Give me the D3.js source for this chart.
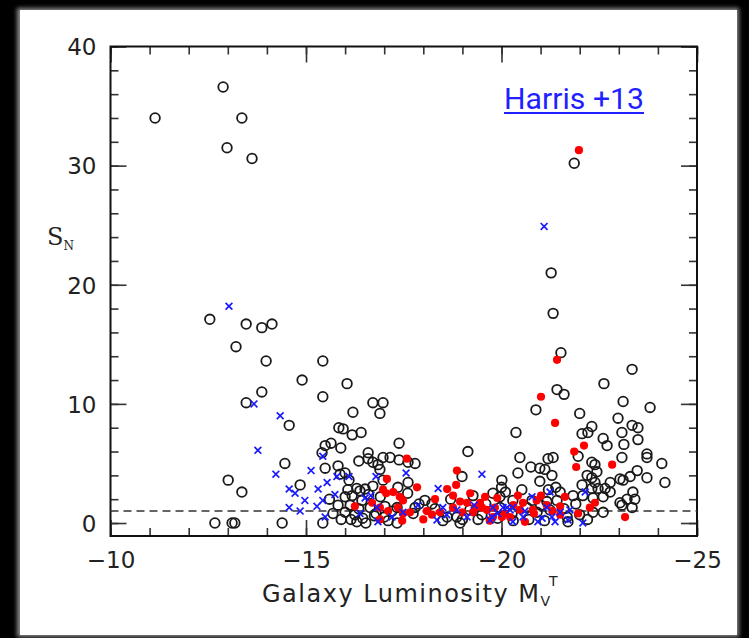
<!DOCTYPE html>
<html><head><meta charset="utf-8">
<script src="https://d3js.org/d3.v7.min.js"></script>
<style>
html,body{margin:0;padding:0;background:#000;}
svg{display:block;}
</style></head>
<body>
<svg id="chart" width="749" height="638"></svg>
<script>
// ---- data (Galaxy luminosity M_V^T, specific frequency S_N) ----
const xTicksMajor = [-10, -15, -20, -25];
const yTicksMajor = [0, 10, 20, 30, 40];
const referenceLevel = 1;
const annotation = "Harris +13";

const openMag = [-11.14,-12.88,-12.98,-13.36,-13.62,-12.54,-13.47,-13.87,-14.13,-13.21,-13.98,-14.90,-13.87,-13.47,-14.57,-14.46,-13.01,-13.36,-14.85,-12.67,-13.11,-13.18,-14.39,
-15.43,-15.43,-16.05,-16.20,-16.71,-16.97,-16.89,-15.84,-15.95,-16.18,-16.41,-15.49,-15.64,-15.89,-15.41,-17.38,-16.59,-16.97,-17.15,-16.35,-16.59,-16.71,-16.84,-16.89,-17.38,-17.61,-17.79,
-15.49,-15.82,-15.87,-16.00,-16.10,-16.30,-16.38,-16.07,-16.00,-16.18,-16.51,-16.71,-16.97,-17.35,-17.61,-15.82,-16.00,-16.13,-16.25,-16.30,-16.53,-16.79,-17.02,-17.33,-17.33,-17.74,-17.89,-17.79,-18.04,-18.22,-18.61,-18.86,-18.94,-18.99,-19.14,-19.27,-19.78,-20.01,-20.37,-20.47,-15.43,-15.69,-16.43,-16.64,-19.19,-19.50,
-21.42,-21.60,-22.62,-20.88,-22.00,-23.11,-23.80,-22.31,-22.06,-22.21,-22.98,-23.34,-23.49,-23.08,-22.60,-22.70,-23.13,-23.49,-21.19,-21.32,-21.96,-22.31,-22.39,-23.08,-23.72,-23.72,-24.10,-20.75,-20.98,-21.11,-20.42,-21.29,-22.44,-23.47,-22.19,-23.29,-20.98,-23.03,-23.72,-24.18,-22.31,-22.39,-22.06,-22.78,-23.11,-21.39,-22.47,-22.65,-22.31,-23.36,-23.21,-23.41,-20.52,-21.83,-22.08,-22.34,-22.60,-22.78,-23.03,-23.08,-23.34,-22.60,-22.34,-22.00,-21.70,-19.96,-20.29,-20.78,-21.16,-21.42,-20.65,-20.91,-20.27,-19.96,-21.24,-21.68,
-21.86,-21.27,-21.32,-21.52,-23.34,
-16.15,-16.45,-16.75,-17.10,-17.20,-16.60,-16.90,-17.60,-17.00,-15.90,-15.60,-16.35,
-18.30,-18.50,-18.70,-19.00,-19.40,-19.60,-19.90,-20.10,-20.30,-20.00,
-20.70,-21.00,-21.20,-21.50,-21.90,-21.10,-21.60,-22.20];
const openSN = [34.0,36.6,31.5,34.0,30.6,17.1,16.7,16.4,16.7,14.8,13.6,12.0,11.0,10.1,8.2,5.0,3.6,2.6,3.2,0.0,0.0,0.0,0.0,
13.6,10.6,11.7,9.3,10.1,10.1,9.2,8.0,7.9,7.4,7.6,6.5,6.7,6.3,5.9,6.7,5.9,5.5,5.5,5.2,5.4,5.1,4.9,4.5,5.3,5.1,5.0,
4.6,4.8,4.1,4.2,3.6,2.9,2.7,2.8,2.2,2.3,2.85,3.1,3.6,3.0,3.4,1.5,0.9,1.5,0.7,0.1,0.0,0.8,1.4,1.3,0.0,0.8,1.6,1.3,1.9,1.6,0.5,0.5,0.0,3.9,6.0,2.3,2.5,3.6,7.6,5.5,0.0,0.8,1.9,1.3,1.1,0.7,
11.2,10.8,11.7,9.5,9.2,10.2,9.7,8.1,7.5,7.6,8.8,8.2,8.0,7.6,7.1,6.5,6.6,7.0,5.4,5.5,5.6,5.1,4.9,5.5,5.8,5.5,5.0,4.7,4.6,4.5,4.2,4.0,4.3,4.4,4.0,3.9,3.5,3.7,3.8,3.4,3.8,3.4,3.2,3.4,3.6,3.0,2.9,2.9,2.9,2.6,2.0,2.0,2.8,2.3,2.3,2.1,2.2,2.6,1.7,1.5,1.3,0.9,0.9,0.7,0.1,2.2,1.9,1.9,1.8,1.9,1.3,0.9,0.8,1.3,1.1,0.5,
30.2,21.0,17.6,14.3,12.9,
0.3,0.4,0.6,0.2,1.0,2.4,2.2,2.5,0.5,0.3,2.0,1.2,
1.2,0.2,2.0,0.3,0.3,1.6,0.4,2.6,0.2,3.0,
0.3,1.5,2.8,2.6,1.6,0.2,1.2,0.3];

const redMag = [-21.98,-21.42,-21.01,-21.37,-22.11,-21.86,-21.91,-22.83,-23.16,
-17.58,-17.07,-17.84,-16.97,-17.23,-17.40,-17.48,-17.35,-17.48,-17.66,-16.89,-16.69,-16.25,-16.89,-17.46,-18.86,-18.61,-18.84,-18.76,-18.76,-18.94,-19.12,-19.32,-19.45,-19.58,-19.63,-19.89,-20.09,-20.22,-19.27,-18.22,-18.43,-18.09,-17.05,
-19.50,-19.83,-20.42,-20.47,-20.55,-20.83,-21.01,-21.16,-21.50,-21.50,-21.62,-21.96,-22.26,-22.39,-20.60,-20.01,-19.78,-20.80,
-18.00,-18.30,-19.00,-19.20,-20.30,-20.90,-21.30,-17.10,-19.70];
const redSN = [31.3,13.7,10.6,8.4,6.5,6.0,4.7,4.9,0.5,
5.4,3.7,3.0,2.8,2.6,2.2,1.9,1.3,0.8,0.9,1.3,1.7,1.4,0.3,0.2,4.4,2.85,3.2,2.3,1.3,1.8,1.7,1.3,1.7,2.2,1.1,2.1,0.8,0.5,0.9,0.7,0.9,1.0,2.5,
1.3,1.3,2.3,1.1,1.7,0.8,2.3,1.5,1.4,0.7,2.2,0.8,1.3,1.7,0.1,0.5,0.5,1.1,
0.3,2.0,0.9,2.5,1.5,1.9,1.0,1.0,0.2];

const blueMag = [-13.03,-13.67,-14.34,-13.77,-14.23,-15.13,-14.57,-14.72,-14.97,-14.57,-14.85,-15.31,-15.28,
-15.43,-15.79,-16.10,-16.79,-17.56,-15.54,-15.74,-15.43,-15.49,-16.38,-16.51,-16.66,-16.82,-16.84,-17.48,-17.86,-18.38,-18.50,-18.35,-19.12,-18.86,-19.50,-19.76,-20.04,-20.22,-19.71,
-21.24,-20.78,-22.14,-19.78,-20.14,-20.29,-20.55,-21.16,-21.04,-21.29,-21.37,-20.29,-21.75,-21.70,-22.08,-20.93,-21.09,
-18.60,-19.30,-20.60,-21.50,-17.20,-19.90];
const blueSN = [18.2,10.0,9.0,6.1,4.1,4.4,2.85,2.5,1.9,1.3,1.0,2.85,1.4,
5.6,3.9,3.9,3.9,4.2,3.4,2.4,1.9,0.5,0.8,2.1,2.3,1.3,0.1,0.9,1.5,2.9,1.3,0.25,0.5,1.1,4.1,0.5,1.3,1.1,0.25,
2.6,2.2,2.6,1.3,1.3,1.3,0.5,1.3,0.4,0.5,0.1,0.1,1.1,0.25,0.0,0.1,24.9,
0.7,1.5,1.0,0.9,0.5,0.8];

// ---- layout ----
const svg = d3.select("#chart");
const L = 110.5, R = 697, T = 46.5, B = 536;

// page: white sheet on black with soft edges
const defs = svg.append("defs");
defs.append("filter").attr("id","soft").attr("x","-5%").attr("y","-5%").attr("width","110%").attr("height","110%")
  .append("feGaussianBlur").attr("stdDeviation", 2);
svg.append("rect").attr("x",0).attr("y",0).attr("width",749).attr("height",638).attr("fill","#000");
svg.append("rect").attr("x",17).attr("y",8).attr("width",722).attr("height",629).attr("fill","#8a8a8a").attr("filter","url(#soft)");
svg.append("rect").attr("x",20).attr("y",10).attr("width",717).attr("height",625).attr("fill","#fff");

const x = d3.scaleLinear().domain([-10, -25]).range([L, R]);
const y = d3.scaleLinear().domain([-1.09, 40]).range([B, T]);

const tickColor = "#333";
const fontTicks = "'DejaVu Sans', sans-serif";

function styleAxis(g){
  g.select(".domain").remove();
  g.selectAll(".tick line").attr("stroke", tickColor).attr("stroke-width", 1.6);
}

// minor ticks
const xMinor = d3.range(-10, -25.5, -1);
const yMinor = d3.range(0, 40.5, 2);
svg.append("g").attr("transform",`translate(0,${B})`)
  .call(d3.axisBottom(x).tickValues(xMinor).tickSize(-8).tickFormat("")).call(styleAxis);
svg.append("g").attr("transform",`translate(0,${T})`)
  .call(d3.axisTop(x).tickValues(xMinor).tickSize(-8).tickFormat("")).call(styleAxis);
svg.append("g").attr("transform",`translate(${L},0)`)
  .call(d3.axisLeft(y).tickValues(yMinor).tickSize(-8).tickFormat("")).call(styleAxis);
svg.append("g").attr("transform",`translate(${R},0)`)
  .call(d3.axisRight(y).tickValues(yMinor).tickSize(-8).tickFormat("")).call(styleAxis);

// major ticks
const fmt = d => d3.format("d")(d);
const gxb = svg.append("g").attr("transform",`translate(0,${B})`)
  .call(d3.axisBottom(x).tickValues(xTicksMajor).tickSize(-16).tickFormat(fmt)).call(styleAxis);
gxb.selectAll("text").attr("y", 32).attr("dy", null)
  .attr("font-family", fontTicks).attr("font-size", 23).attr("fill", "#222");
svg.append("g").attr("transform",`translate(0,${T})`)
  .call(d3.axisTop(x).tickValues(xTicksMajor).tickSize(-16).tickFormat("")).call(styleAxis);
const gyl = svg.append("g").attr("transform",`translate(${L},0)`)
  .call(d3.axisLeft(y).tickValues(yTicksMajor).tickSize(-16).tickPadding(14).tickFormat(fmt)).call(styleAxis);
gyl.selectAll("text").attr("dy", "0.36em")
  .attr("font-family", fontTicks).attr("font-size", 23).attr("fill", "#222");
svg.append("g").attr("transform",`translate(${R},0)`)
  .call(d3.axisRight(y).tickValues(yTicksMajor).tickSize(-16).tickFormat("")).call(styleAxis);

// frame
svg.append("rect").attr("x",L).attr("y",T).attr("width",R-L).attr("height",B-T)
  .attr("fill","none").attr("stroke","#111").attr("stroke-width",2);

// reference line S_N = 1
svg.append("line").attr("x1",L).attr("x2",R).attr("y1",y(referenceLevel)).attr("y2",y(referenceLevel))
  .attr("stroke","#333").attr("stroke-width",1.5).attr("stroke-dasharray","8,5");

// points
const open = openMag.map((m,i)=>({m, s: openSN[i]}));
const red = redMag.map((m,i)=>({m, s: redSN[i]}));
const blue = blueMag.map((m,i)=>({m, s: blueSN[i]}));

svg.append("g").selectAll("circle").data(open).join("circle")
  .attr("cx", d=>x(d.m)).attr("cy", d=>y(d.s)).attr("r", 4.8)
  .attr("fill","none").attr("stroke","#1a1a1a").attr("stroke-width",1.8);

svg.append("g").selectAll("circle").data(red).join("circle")
  .attr("cx", d=>x(d.m)).attr("cy", d=>y(d.s)).attr("r", 4.1)
  .attr("fill","#ff0000");

const cs = 3.4;
svg.append("g").selectAll("path").data(blue).join("path")
  .attr("d", d=>{const cx=x(d.m), cy=y(d.s); return `M${cx-cs},${cy-cs}L${cx+cs},${cy+cs}M${cx-cs},${cy+cs}L${cx+cs},${cy-cs}`;})
  .attr("stroke","#1a1aff").attr("stroke-width",1.7).attr("fill","none");

// axis titles
const xt = svg.append("text").attr("x", 262).attr("y", 602)
  .attr("font-family","'DejaVu Sans', sans-serif").attr("font-size", 24).attr("fill","#222");
xt.append("tspan").text("Galaxy Luminosity M").attr("textLength", 277).attr("lengthAdjust","spacing");
xt.append("tspan").text("V").attr("font-size", 14).attr("dy", 4);
xt.append("tspan").text("T").attr("font-size", 14).attr("dx", -1).attr("dy", -20);

const yt = svg.append("text").attr("x", 47).attr("y", 245)
  .attr("font-family","'DejaVu Serif', serif").attr("font-size", 24).attr("fill","#222");
yt.append("tspan").text("S");
yt.append("tspan").text("N").attr("font-size", 12).attr("dy", 5);

// annotation
svg.append("text").attr("x", 504).attr("y", 109)
  .attr("font-family","Roboto, sans-serif").attr("font-size", 29).attr("fill","#1f1fff")
  .attr("textLength", 140).attr("lengthAdjust","spacingAndGlyphs")
  .text(annotation);
svg.append("line").attr("x1",504).attr("x2",644).attr("y1",113).attr("y2",113)
  .attr("stroke","#1f1fff").attr("stroke-width",2);
</script>
</body></html>
